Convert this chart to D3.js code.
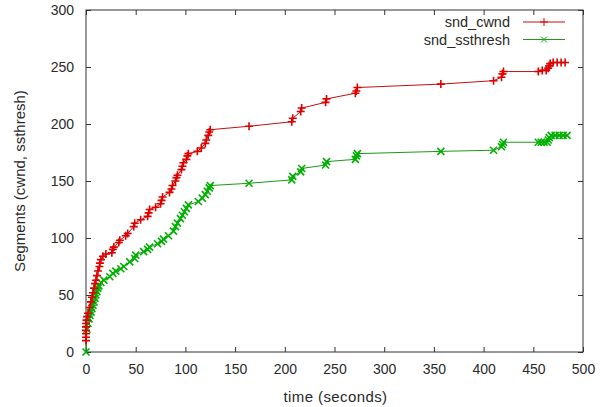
<!DOCTYPE html>
<html>
<head>
<meta charset="utf-8">
<script src="https://cdn.jsdelivr.net/npm/d3@7"></script>
<style>
  body { margin: 0; background: #fff; }
  text { font-family: "Liberation Sans", Arial, sans-serif; fill: #2a2a2a; }
</style>
</head>
<body>
<script>
var margin = {top: 10, right: 21, bottom: 55, left: 86};
var width = 604;
var height = 407;
var plotW = width - margin.left - margin.right;
var plotH = height - margin.top - margin.bottom;

// snd_cwnd samples
var cwndTime = [0, 0, 0, 0, 0, 0, 0.5, 1, 2, 3.5, 5, 6, 7, 8, 9, 10, 11, 12, 13.5, 14, 15, 17, 20,
  26, 27, 28, 33, 34, 40, 42, 48, 49, 55, 62, 63, 64, 70, 75, 76, 77, 84, 86, 87, 90, 91, 92,
  96, 97, 98, 101, 102, 103, 112, 116, 120, 121, 123, 124, 125, 164, 207, 208, 216, 217,
  241, 242, 271, 272, 273, 357, 410, 418, 419, 420, 455, 459, 463, 465, 466, 467, 470, 474, 478, 482];
var cwndValue = [10, 13, 16, 19, 22, 25, 28, 31, 34, 39, 44, 48, 52, 56, 60, 63, 67, 71, 75, 78, 81, 84, 86,
  87, 90, 92, 96, 98, 102, 104, 110, 113, 116, 119, 122, 125, 127, 130, 133, 136, 140, 143, 146, 150, 153, 155,
  160, 163, 166, 169, 172, 174, 176, 179, 183, 186, 190, 193, 195, 198, 202, 205, 211, 214,
  219, 222, 227, 229, 232, 235, 238, 241, 244, 246, 246, 247, 247, 249, 251, 253, 254, 254, 254, 254];

// snd_ssthresh samples
var ssthTime = [0, 1, 2, 3, 4, 5, 6, 7, 8, 9, 10, 11, 12, 13, 15, 18, 24, 27, 30, 35, 38, 44, 49, 50,
  58, 62, 64, 72, 76, 78, 83, 88, 90, 92, 95, 97, 99, 101, 103, 113, 117, 120, 122, 124, 125,
  164, 207, 208, 216, 217, 241, 242, 271, 272, 273, 357, 410, 418, 419, 420, 455, 458, 461, 464,
  465, 466, 468, 472, 476, 480, 484];
var ssthValue = [0, 20, 25, 29, 32, 35, 38, 41, 44, 47, 50, 53, 56, 58, 61, 63, 66, 69, 71, 73, 75, 79, 82, 85,
  88, 90, 92, 95, 97, 99, 102, 106, 110, 113, 117, 120, 123, 126, 129, 132, 135, 138, 141, 144, 146,
  148, 151, 154, 158, 161, 164, 167, 169, 172, 174, 176, 177, 180, 182, 184, 184, 184, 184, 184,
  186, 188, 190, 190, 190, 190, 190];

var xTicks = [0, 50, 100, 150, 200, 250, 300, 350, 400, 450, 500];
var yTicks = [0, 50, 100, 150, 200, 250, 300];
var seriesNames = ["snd_cwnd", "snd_ssthresh"];

var svg = d3.select("body").append("svg")
    .attr("width", width)
    .attr("height", height);

var g = svg.append("g")
    .attr("transform", "translate(" + margin.left + "," + margin.top + ")");

var x = d3.scaleLinear().domain([0, 500]).range([0, plotW]);
var y = d3.scaleLinear().domain([0, 300]).range([plotH, 0]);

// gnuplot style: ticks point inward, mirrored on top and right
function styleAxis(sel) {
  sel.select(".domain").remove();
  sel.selectAll(".tick line").attr("stroke", "#333");
  sel.selectAll(".tick text").style("font-size", "14px").attr("fill", "#2a2a2a");
}

g.append("g")
    .attr("transform", "translate(0," + plotH + ")")
    .call(d3.axisBottom(x).tickValues(xTicks).tickSizeInner(-5).tickSizeOuter(0).tickPadding(12))
    .call(styleAxis);
g.append("g")
    .call(d3.axisTop(x).tickValues(xTicks).tickSizeInner(-5).tickSizeOuter(0).tickFormat(""))
    .call(styleAxis);
g.append("g")
    .call(d3.axisLeft(y).tickValues(yTicks).tickSizeInner(-5).tickSizeOuter(0).tickPadding(12))
    .call(styleAxis);
g.append("g")
    .attr("transform", "translate(" + plotW + ",0)")
    .call(d3.axisRight(y).tickValues(yTicks).tickSizeInner(-5).tickSizeOuter(0).tickFormat(""))
    .call(styleAxis);

g.append("rect")
    .attr("width", plotW)
    .attr("height", plotH)
    .attr("fill", "none")
    .attr("stroke", "#333")
    .attr("stroke-width", 1);

var line = d3.line()
    .x(function(d) { return x(d[0]); })
    .y(function(d) { return y(d[1]); });

function plusPath(s) {
  return "M" + (-s) + ",0H" + s + "M0," + (-s) + "V" + s;
}
function crossPath(s) {
  return "M" + (-s) + "," + (-s) + "L" + s + "," + s + "M" + (-s) + "," + s + "L" + s + "," + (-s);
}

function drawSeries(times, values, lineColor, markColor, marker) {
  var pts = d3.zip(times, values);
  g.append("path")
      .datum(pts)
      .attr("fill", "none")
      .attr("stroke", lineColor)
      .attr("stroke-width", 1)
      .attr("d", line);
  g.append("g").selectAll("path")
      .data(pts)
      .enter().append("path")
      .attr("transform", function(d) { return "translate(" + x(d[0]) + "," + y(d[1]) + ")"; })
      .attr("d", marker)
      .attr("fill", "none")
      .attr("stroke", markColor)
      .attr("stroke-width", 1.6);
}

drawSeries(ssthTime, ssthValue, "#1a9a1a", "#00b000", crossPath(3.5));
drawSeries(cwndTime, cwndValue, "#c01010", "#e00000", plusPath(4));

// legend
var legend = svg.append("g");
var legendColors = [["#c01010", "#e00000"], ["#1a9a1a", "#00b000"]];
var legendMarks = [plusPath(4), crossPath(3)];
seriesNames.forEach(function(name, i) {
  var ly = 22 + i * 17.5;
  legend.append("text")
      .attr("x", 510)
      .attr("y", ly)
      .attr("dy", "0.35em")
      .attr("text-anchor", "end")
      .style("font-size", "14.5px")
      .text(name);
  legend.append("line")
      .attr("x1", 523).attr("x2", 565)
      .attr("y1", ly).attr("y2", ly)
      .attr("stroke", legendColors[i][0]);
  legend.append("path")
      .attr("transform", "translate(544," + ly + ")")
      .attr("d", legendMarks[i])
      .attr("fill", "none")
      .attr("stroke", legendColors[i][1])
      .attr("stroke-width", 1);
});

svg.append("text")
    .attr("x", margin.left + plotW / 2 + 1)
    .attr("y", 397)
    .attr("dy", "0.35em")
    .attr("text-anchor", "middle")
    .style("font-size", "15px")
    .style("letter-spacing", "0.4px")
    .text("time (seconds)");

svg.append("text")
    .attr("transform", "translate(20," + (margin.top + plotH / 2) + ") rotate(-90)")
    .attr("dy", "0.35em")
    .attr("text-anchor", "middle")
    .style("font-size", "15px")
    .text("Segments (cwnd, ssthresh)");
</script>
</body>
</html>
